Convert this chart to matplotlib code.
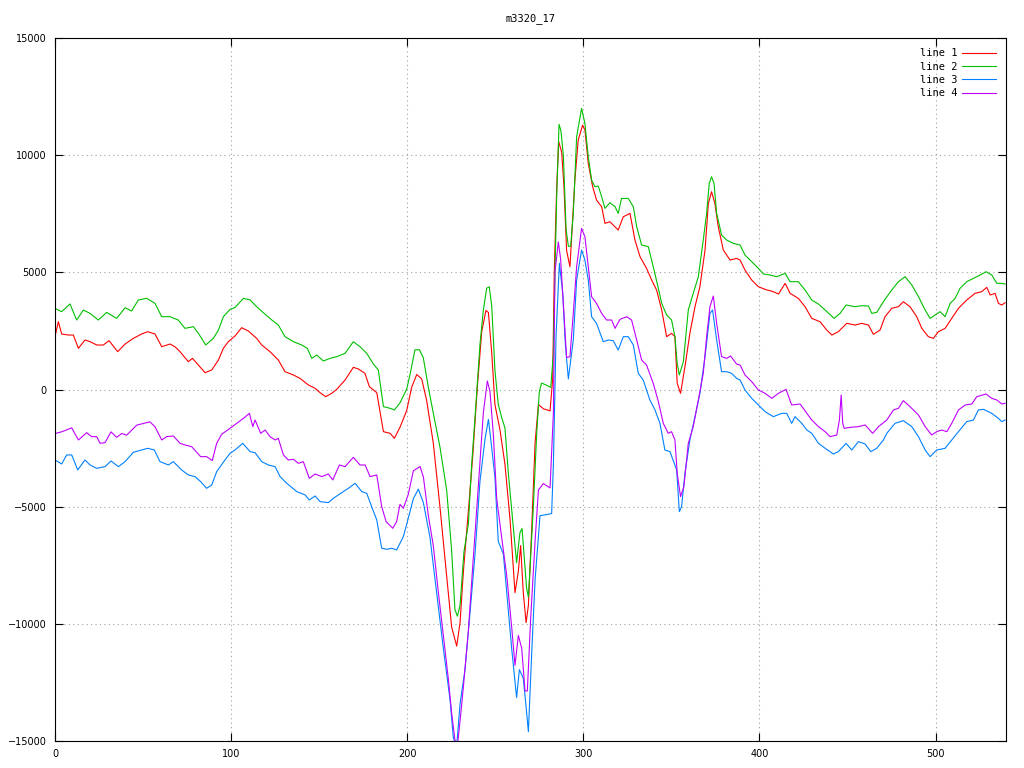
#!/usr/bin/env python3
# -*- coding: utf-8 -*-
"""
m3320_17: four noisy traces, gnuplot-like look
"""

import matplotlib
matplotlib.use('Agg')
import matplotlib.pyplot as plt

# Data (sample index, value)
x1 = [0, 1.9, 3.8, 7.6, 10.4, 13.3, 17, 19.9, 23.7, 27.4, 30.7, 35.6, 39.8, 44.5, 49.2, 52.6,
      56.8, 60.6, 65.3, 68.1, 71, 75.7, 78, 81.4, 85.2, 89, 92.8, 95.6, 98.4, 102.2,
      106, 109.8, 114.5, 117.4, 122.1, 126.8, 130.6, 135.4, 139.1, 143.9, 147.7, 150.5,
      153.7, 157.1, 160, 164.7, 169.4, 172.3, 176, 178.5, 182.7, 186.5, 190.3, 192.7,
      195.9, 199.7, 202.5, 205.4, 208.2, 211, 214.8, 218.6, 222.4, 225.2, 228.1, 230,
      231.9, 234.7, 237.2, 239.8, 242.3, 244.7, 246.1, 248, 249.8, 252.7, 255.5, 258.4,
      261.2, 263.1, 264.4, 265.9, 267.5, 268.8, 270.7, 272.6, 274.5, 277.3, 281.1, 282.6,
      283.5, 284.9, 286, 287.7, 289, 290.5, 292.4, 295.2, 297.1, 299.6, 300.9, 302.8,
      305.3, 307.5, 310.4, 312.3, 315.1, 319.8, 322.7, 326.5, 329.3, 332.2, 335.9, 338.8,
      341.6, 344.5, 347.3, 350.1, 352, 353.3, 355.2, 357.7, 360.5, 363.4, 366.2, 369.1,
      371, 372.8, 374.7, 376.6, 379.5, 383.3, 387, 389, 391.8, 395.6, 399.4, 403.2, 407.9,
      410.8, 414.6, 417.4, 422.1, 425.9, 429.7, 434.4, 438.2, 441.1, 444.8, 449.6, 454.3,
      458.1, 461.9, 464.7, 468.5, 471.3, 475.1, 478.9, 481.7, 485.5, 489.3, 492.2, 495.9,
      498.8, 501.6, 505.4, 509.2, 513, 517.7, 522.4, 526.2, 529.1, 531, 533.8, 535.7,
      537.6, 539.5]
line1 = [2253, 2894, 2368, 2325, 2325, 1756, 2112, 2041, 1898, 1898, 2083, 1614, 1941, 2183,
         2368, 2467, 2368, 1827, 1941, 1827, 1614, 1187, 1330, 1045, 718, 832, 1258, 1756,
         2041, 2282, 2638, 2496, 2183, 1898, 1614, 1258, 761, 618, 476, 192, 50, -135, -306,
         -164, 7, 405, 946, 875, 690, 121, -135, -1800, -1870, -2083, -1610, -900, 90, 638,
         455, -458, -2283, -5020, -7940, -10130, -10951, -9947, -7757, -5202, -2830, 90,
         2463, 3375, 3284, 1550, -640, -1735, -3195, -5567, -8670, -7757, -6662, -8670,
         -9947, -9217, -5932, -2283, -640, -822, -914, 455, 5018, 8668, 10584, 10128, 8668,
         5932, 5240, 8937, 10644, 11284, 11071, 9649, 8653, 8084, 7800, 7089, 7160, 6805,
         7373, 7515, 6378, 5667, 5169, 4672, 4245, 3392, 2254, 2396, 2254, 263, -164, 974,
         2396, 3534, 4387, 5951, 7942, 8439, 7942, 6947, 5951, 5524, 5595, 5524, 5098, 4671,
         4387, 4273, 4174, 4075, 4529, 4103, 3889, 3534, 3036, 2894, 2538, 2325, 2467, 2823,
         2752, 2823, 2752, 2354, 2538, 3107, 3463, 3534, 3747, 3534, 3107, 2609, 2254, 2183,
         2467, 2609, 3036, 3463, 3818, 4103, 4174, 4359, 4032, 4103, 3676, 3605, 3705]

x2 = [0, 3.8, 8.5, 12.3, 16.1, 19.9, 24.6, 29.3, 35, 39.8, 43.5, 47.3, 52.1, 56.8, 60.6, 65.3,
      70, 73.8, 78.6, 81.4, 85.6, 89.9, 92.8, 95.6, 99.4, 102.2, 107, 110.8, 114.5, 118.3,
      123.1, 126.8, 130.6, 135.4, 140.1, 143.3, 145.8, 148.6, 152.4, 156.2, 160, 164.7,
      169.4, 173.2, 177, 180.8, 183.6, 186.5, 190.3, 192.7, 195.9, 199.7, 201.6, 204.4,
      206.9, 209.1, 212, 214.8, 218.6, 222.4, 225.2, 227.1, 228.5, 230, 232.2, 234.7,
      236.6, 238.5, 241.3, 243.2, 245.1, 246.6, 248, 249.8, 251.7, 253.6, 255.5, 257.4,
      260.3, 262.1, 264, 265.2, 266.3, 267.8, 268.8, 270.3, 271.6, 273.5, 275, 276.3,
      279.2, 281.5, 283, 283.9, 284.9, 286.2, 287.3, 288.7, 290.2, 291.5, 292.8, 294.3,
      296.2, 299, 300.9, 302.8, 304.7, 306.6, 308.5, 310.4, 312.3, 315.1, 318, 319.8,
      321.7, 325.5, 328.4, 330.3, 333.1, 336.9, 339.7, 342.6, 344.5, 347.3, 350.1, 352,
      353.3, 354.5, 356.8, 359.6, 362.4, 365.3, 368.1, 370, 371.5, 372.8, 374.2, 375.7,
      378.5, 381.4, 385.1, 389, 391.8, 395.6, 399.4, 402.3, 406, 409.8, 414.6, 417.4,
      422.1, 425.9, 429.7, 433.5, 437.3, 442.4, 445.8, 449.2, 454.3, 458.1, 461.9, 463.8,
      466.6, 471.3, 475.1, 478.9, 482.7, 486.5, 490.3, 494.1, 496.9, 499.7, 502.6, 505.4,
      508.3, 511.1, 513.9, 517.7, 521.5, 525.3, 528.7, 531.9, 534.8, 537.6, 539.5]
line2 = [3463, 3320, 3650, 2965, 3390, 3250, 2965, 3290, 3036, 3490, 3350, 3820, 3890, 3675,
         3107, 3107, 2965, 2610, 2680, 2400, 1900, 2180, 2540, 3107, 3420, 3500, 3890, 3820,
         3534, 3278, 2965, 2751, 2254, 2041, 1898, 1756, 1330, 1472, 1216, 1330, 1401, 1543,
         2041, 1827, 1543, 1088, 832, -732, -803, -874, -570, 20, 638, 1696, 1696, 1367, 90,
         -1005, -2465, -4290, -6845, -9400, -9674, -9217, -6936, -5750, -3195, -1187, 1915,
         3375, 4325, 4379, 3558, 820, -640, -1187, -1644, -3560, -5932, -7392, -6115, -5932,
         -7027, -8487, -8852, -6845, -5020, -1918, -92, 273, 182, 90, 1550, 5018, 8303,
         11314, 11040, 9945, 6843, 6113, 6113, 7515, 10786, 11995, 11355, 9933, 8937, 8653,
         8681, 8226, 7729, 7970, 7800, 7515, 8155, 8155, 7800, 6947, 6165, 6094, 5240, 4316,
         3676, 3178, 2965, 2254, 1116, 619, 1187, 3392, 4103, 4814, 6378, 7515, 8795, 9080,
         8795, 7515, 6591, 6378, 6237, 6164, 5738, 5453, 5169, 4927, 4885, 4814, 4956, 4600,
         4600, 4245, 3818, 3647, 3391, 3036, 3250, 3605, 3534, 3576, 3562, 3250, 3292, 3847,
         4245, 4600, 4814, 4458, 3960, 3392, 3036, 3178, 3321, 3107, 3676, 3889, 4316, 4600,
         4743, 4885, 5027, 4885, 4529, 4529, 4500]

x3 = [0, 3.8, 6.6, 9.5, 12.9, 17, 19.9, 23.7, 28.4, 31.8, 36, 39.8, 44.5, 49.2, 52.6, 56.4,
      59.6, 64.4, 67.2, 71.9, 75.7, 79.5, 82.7, 86.1, 89, 91.8, 96.5, 99.4, 102.2, 106.6,
      110.8, 113.6, 117.4, 121.2, 125, 127.8, 131.6, 137.3, 142, 144.4, 147.7, 150.5, 155.2,
      158.1, 162.8, 166.6, 170.4, 174.2, 177, 179.8, 182.7, 185.5, 188.4, 191.2, 194,
      197.8, 199.7, 203.5, 206.3, 209.2, 212.9, 216.7, 220.5, 224.3, 226.2, 228.1, 230,
      232.8, 235.6, 238.5, 241.3, 244.2, 246.1, 247.4, 249.8, 251.7, 254.6, 256.5, 259.3,
      262.1, 263.7, 265.9, 267.8, 268.8, 270.7, 272.6, 275.4, 278.2, 282, 283, 284.5,
      286.4, 288.3, 289.8, 291.5, 294.3, 296.2, 299, 300.9, 302.8, 304.7, 307.5, 311.3,
      314.2, 317, 319.8, 322.7, 325.5, 328.4, 331.2, 334, 337.8, 340.7, 343.5, 346.3,
      349.2, 353, 354.5, 355.8, 357.7, 360.5, 363.4, 366.2, 369.1, 371.9, 373.4, 375.7,
      378.5, 381.4, 384.2, 387, 389, 391.8, 395.6, 399.4, 403.2, 407.9, 412.7, 415.5,
      418.3, 420.2, 424, 426.9, 429.7, 433.5, 437.3, 442, 444.8, 449.2, 452.4, 456.2, 460,
      463.2, 466.6, 470.4, 472.3, 477, 481.7, 486.5, 490.3, 494.1, 496.9, 500.7, 505.4,
      509.2, 513, 517.7, 521.5, 524.3, 527.2, 531.9, 535.7, 537.6, 539.5]
line3 = [-3008, -3178, -2794, -2794, -3434, -3008, -3220, -3363, -3292, -3050, -3292, -3078,
         -2680, -2581, -2510, -2581, -3078, -3220, -3078, -3434, -3647, -3718, -3932, -4216,
         -4074, -3505, -3008, -2723, -2581, -2297, -2652, -2695, -3079, -3221, -3292, -3718,
         -4003, -4358, -4500, -4714, -4543, -4785, -4827, -4643, -4401, -4216, -4003, -4358,
         -4429, -4998, -5567, -6776, -6818, -6776, -6847, -6278, -5750, -4655, -4253, -4837,
         -6297, -8670, -11042, -13232, -14875, -15200, -13415, -11955, -9582, -7027, -3925,
         -2100, -1279, -2100, -3742, -6480, -7027, -8670, -11042, -13141, -11955, -12320,
         -13780, -14601, -11225, -8122, -5385, -5349, -5294, -3195, 2280, 5383, 4105, 1915,
         455, 2112, 4671, 5951, 5524, 4671, 3107, 2823, 2041, 2112, 2083, 1685, 2254, 2254,
         1898, 690, 405, -448, -874, -1443, -2581, -2652, -3434, -5211, -4998, -3576, -2154,
         -1159, -164, 1401, 3249, 3391, 2112, 761, 761, 690, 476, 405, -21, -377, -661, -945,
         -1159, -1017, -1017, -1443, -1159, -1443, -1728, -1870, -2297, -2510, -2752, -2652,
         -2297, -2581, -2226, -2325, -2652, -2510, -2154, -1870, -1443, -1330, -1585, -2012,
         -2581, -2866, -2581, -2510, -2154, -1799, -1372, -1301, -874, -846, -1017, -1230,
         -1372, -1301]

x4 = [0, 3.8, 9.5, 13.3, 18, 20.8, 23.7, 25.6, 28.4, 31.8, 35, 37.9, 40.7, 46.4, 50.2, 53.9,
      56.8, 60.6, 63.4, 67.2, 71, 73.8, 77.6, 82.7, 86.1, 89.3, 91.8, 94.6, 99.4, 103.2,
      107, 110.4, 112.3, 113.6, 116.8, 119.3, 122.1, 125, 126.8, 129.7, 132.5, 135.4,
      138.2, 141, 144.4, 147.7, 151.5, 155.2, 157.7, 161.5, 164.7, 169.4, 173.2, 176.1,
      178.9, 182.7, 185.5, 188, 191.8, 194, 195.9, 197.8, 200.6, 203.5, 207.3, 209.2, 212,
      214.8, 217.7, 220.5, 223.3, 225.2, 227.1, 228.5, 230, 231.9, 234.7, 237.5, 240.4,
      243.2, 245.5, 247, 248.9, 250.8, 253.6, 256.5, 259.3, 261.2, 263.1, 265, 266.9,
      268.2, 270.1, 272.6, 274.5, 277.3, 281.1, 283, 283.9, 285.8, 287.1, 288.7, 290.5,
      292.4, 294.3, 296.2, 299, 300.9, 302.8, 304.7, 307.5, 310.4, 313.2, 316.1, 318,
      320.8, 324.6, 327.4, 330.3, 333.1, 335.9, 339.7, 342.6, 345.4, 348.2, 350.1, 352,
      353.3, 355.2, 357.1, 359.6, 362.4, 365.3, 368.1, 370, 371.9, 373.8, 375.7, 378.5,
      381.4, 383.6, 387, 389, 391.8, 395.6, 399.4, 403.2, 407, 410.8, 415.1, 418.3, 423.1,
      426.9, 429.7, 433.5, 437.3, 440.1, 443.9, 445.4, 446.4, 447.3, 448.1, 451.5, 456.2,
      460, 464.3, 467.6, 472.3, 476.1, 478.9, 481.7, 485.5, 490.3, 494.1, 497.8, 500.7,
      503.5, 506.4, 509.2, 513, 516.8, 520.6, 523.4, 528.7, 531.9, 534.8, 537.6, 539.5]
line4 = [-1877, -1806, -1636, -2154, -1841, -2012, -2012, -2296, -2268, -1806, -2041, -1877,
         -1948, -1521, -1451, -1380, -1593, -2154, -2012, -1983, -2296, -2367, -2439, -2865,
         -2865, -3036, -2296, -1912, -1655, -1443, -1230, -1017, -1585, -1301, -1870, -1728,
         -2012, -2154, -2083, -2794, -3008, -2979, -3150, -3079, -3790, -3605, -3718, -3605,
         -3860, -3221, -3292, -2894, -3221, -3221, -3718, -3647, -4998, -5638, -5922, -5638,
         -4900, -5069, -4472, -3469, -3286, -3742, -5385, -6662, -8670, -10495, -12320,
         -13780, -14966, -15200, -14145, -12685, -10312, -7210, -4107, -1005, 364, -92,
         -1918, -4655, -6297, -7940, -10130, -11772, -10495, -11042, -12867, -12867, -9764,
         -6480, -4290, -4016, -4199, -1005, 5018, 6296, 5566, 3558, 1368, 1401, 3249, 5240,
         6876, 6520, 5240, 3960, 3676, 3249, 2965, 2965, 2609, 2994, 3107, 2965, 2112, 1258,
         1045, 263, -519, -1443, -1870, -1799, -2154, -3576, -4572, -4145, -2297, -1586,
         -448, 690, 2254, 3534, 3989, 2823, 1401, 1330, 1429, 1088, 1045, 619, 334, -21,
         -164, -377, -164, 7, -661, -617, -1017, -1301, -1585, -1799, -2012, -1941, -1301,
         -235, -1443, -1656, -1614, -1585, -1514, -1870, -1585, -1301, -874, -803, -476,
         -732, -1088, -1585, -1941, -1799, -1728, -1799, -1443, -874, -661, -618, -306,
         -192, -377, -448, -618, -590]

labels = ['line 1', 'line 2', 'line 3', 'line 4']
colors = ['#ff0000', '#00c000', '#0080ff', '#c000ff']

xticks = [0, 100, 200, 300, 400, 500]
yticks = [-15000, -10000, -5000, 0, 5000, 10000, 15000]

plt.rcParams['font.family'] = ['DejaVu Sans Mono', 'DejaVu Sans']

fig = plt.figure(figsize=(10.24, 7.68), dpi=100)
ax = fig.add_axes([55 / 1024, 1 - 741 / 768, 951 / 1024, 703 / 768])

for xs, ys, lab, col in zip([x1, x2, x3, x4], [line1, line2, line3, line4], labels, colors):
    ax.plot(xs, ys, color=col, lw=0.8, label=lab)

ax.set_xlim(0, 540)
ax.set_ylim(-15000, 15000)
ax.set_xticks(xticks)
ax.set_yticks(yticks)
ax.tick_params(direction='in', top=True, right=True, length=6, width=0.8,
               labelsize=7, pad=6)
for lbl in ax.get_xticklabels() + ax.get_yticklabels():
    lbl.set_family('DejaVu Sans')
ax.grid(True, linestyle=(0, (1, 3)), color='#a0a0a0', lw=0.8)
for s in ax.spines.values():
    s.set_linewidth(0.8)

ax.set_title('m3320_17', fontsize=7.5, pad=12)
ax.legend(loc='upper right', frameon=False, markerfirst=False, fontsize=7.5,
          handlelength=3.2, labelspacing=0.32, borderaxespad=0.6, handletextpad=0.5)

fig.savefig('out.png', dpi=100, facecolor='white')
plt.close(fig)
